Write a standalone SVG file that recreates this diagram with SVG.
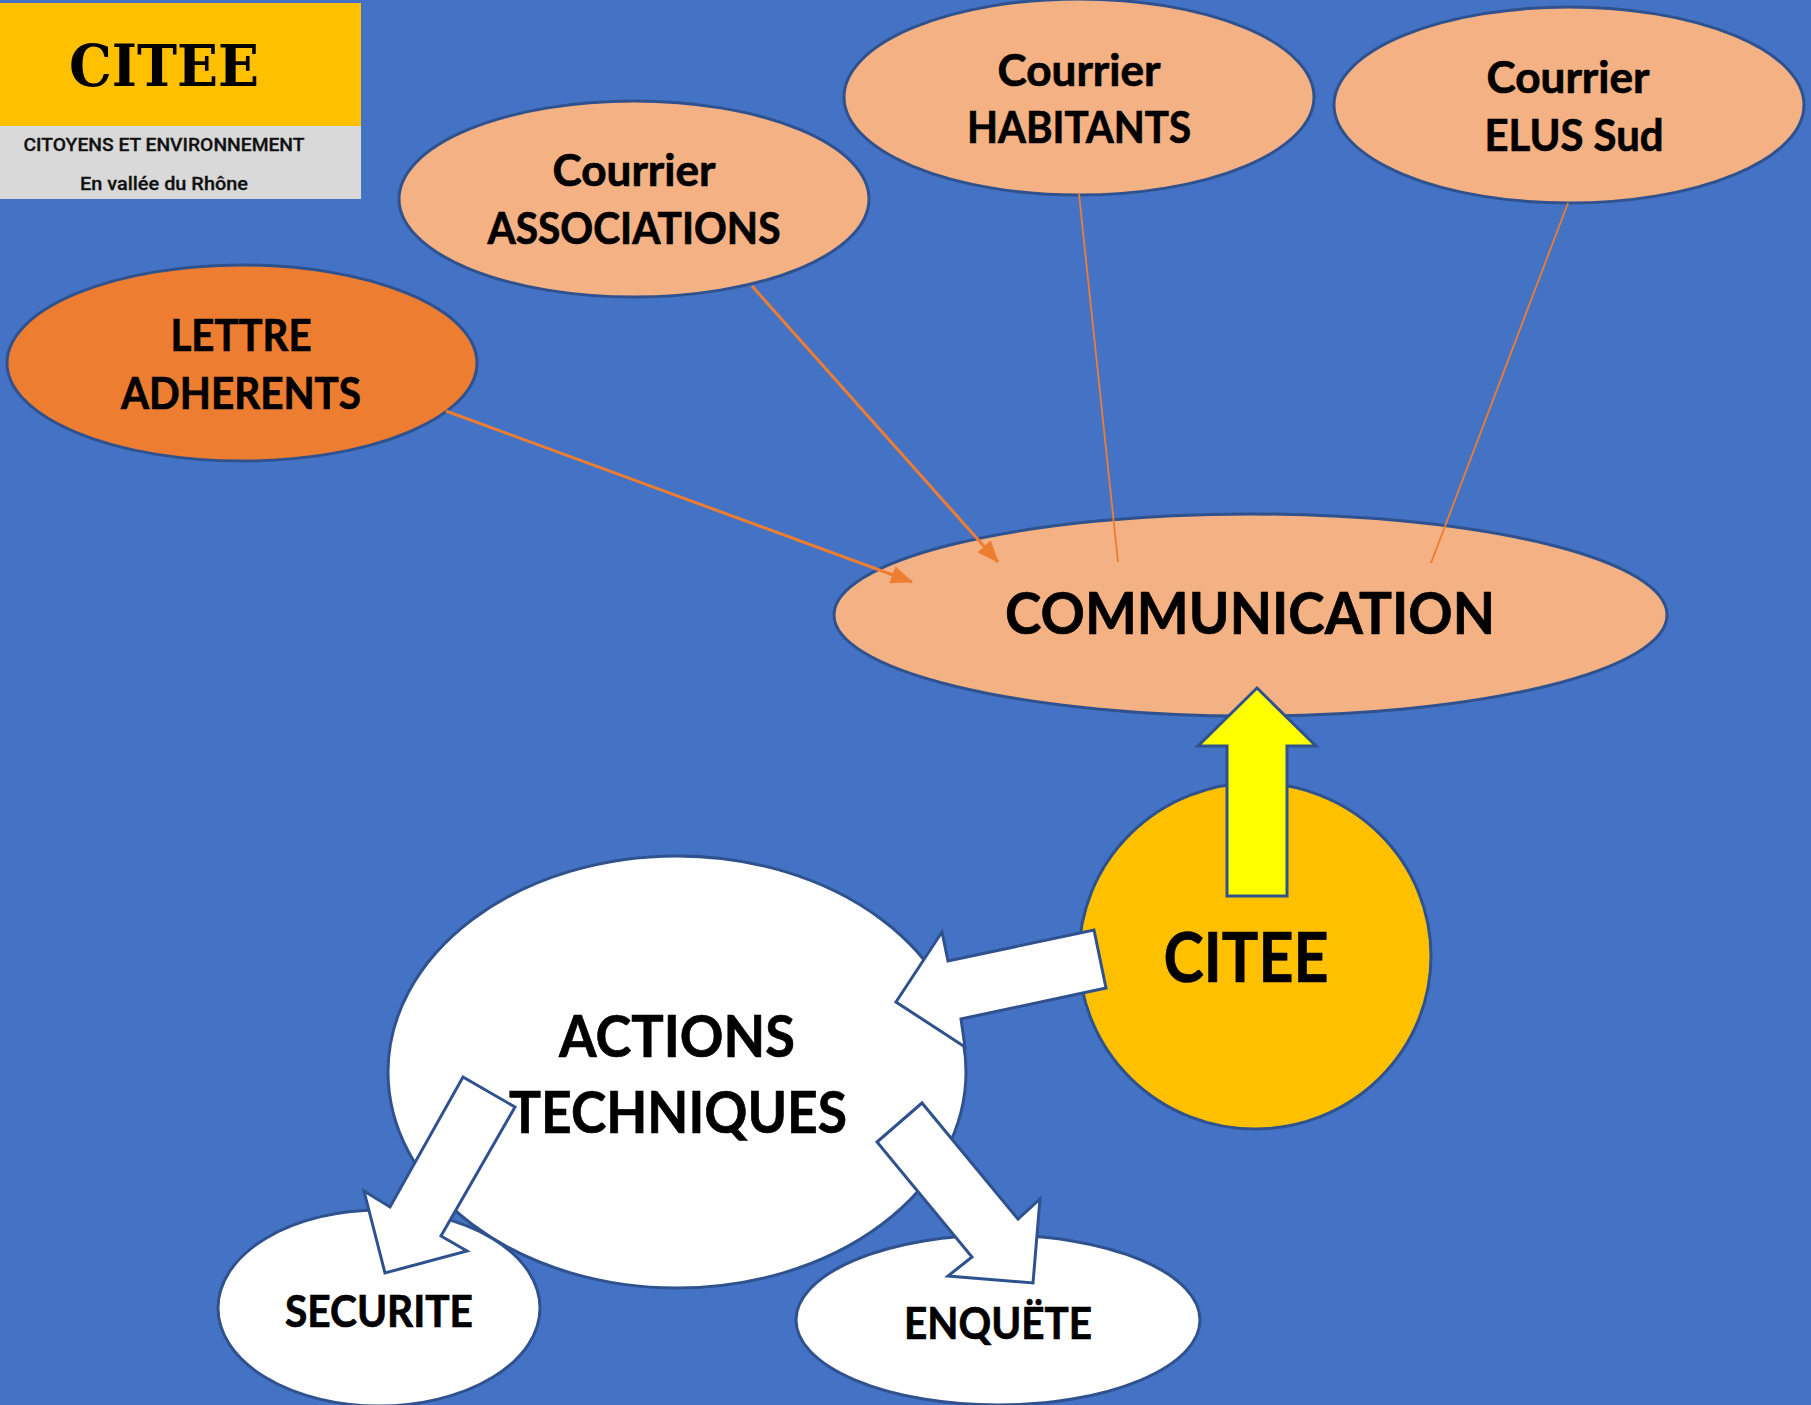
<svg xmlns="http://www.w3.org/2000/svg" width="1811" height="1405" viewBox="0 0 1811 1405">
<style>
.n{stroke:#2F528F;stroke-width:3}
.l{fill:#F4B183}
.w{fill:#fff}
.t{font-family:Lato,"Liberation Sans",sans-serif;font-weight:700;fill:#000;stroke:#000;stroke-width:.7;text-anchor:middle}
.c{stroke:#ED7D31;fill:none}
.s{font-family:Roboto,"Liberation Sans",sans-serif;font-weight:500;fill:#111;stroke:#111;stroke-width:.3;font-size:19px;text-anchor:middle}
</style>
<defs>
<marker id="a" markerUnits="userSpaceOnUse" markerWidth="22" markerHeight="18" refX="21" refY="9" orient="auto"><path d="M0 0L22 9L0 18Z" fill="#ED7D31"/></marker>
</defs>
<rect width="1811" height="1405" fill="#4472C4"/>
<g id="logo">
<rect y="3" width="361" height="123" fill="#FFC000"/>
<rect y="126" width="361" height="73" fill="#D9D9D9"/>
<text x="164" y="86" font-family="'DejaVu Serif',serif" font-weight="700" font-size="58" textLength="190" lengthAdjust="spacingAndGlyphs" fill="#000" text-anchor="middle">CITEE</text>
<text class="s" x="164" y="151" textLength="281" lengthAdjust="spacingAndGlyphs">CITOYENS ET ENVIRONNEMENT</text>
<text class="s" x="164" y="190" textLength="168" lengthAdjust="spacingAndGlyphs">En vallée du Rhône</text>
</g>
<g id="n-lettre"><ellipse class="n" fill="#ED7D31" cx="242" cy="363" rx="235" ry="98"/><text class="t" font-size="43" x="241" y="351" textLength="141" lengthAdjust="spacingAndGlyphs">LETTRE</text><text class="t" font-size="43" x="241" y="409" textLength="240" lengthAdjust="spacingAndGlyphs">ADHERENTS</text></g>
<g id="n-assoc"><ellipse class="n l" cx="634" cy="199" rx="235" ry="98"/><text class="t" font-size="43" x="634" y="186" textLength="163" lengthAdjust="spacingAndGlyphs">Courrier</text><text class="t" font-size="43" x="634" y="244" textLength="293" lengthAdjust="spacingAndGlyphs">ASSOCIATIONS</text></g>
<g id="n-habitants"><ellipse class="n l" cx="1079" cy="97" rx="235" ry="98"/><text class="t" font-size="43" x="1079" y="86" textLength="163" lengthAdjust="spacingAndGlyphs">Courrier</text><text class="t" font-size="43" x="1079" y="143" textLength="224" lengthAdjust="spacingAndGlyphs">HABITANTS</text></g>
<g id="n-elus"><ellipse class="n l" cx="1569" cy="105" rx="235" ry="98"/><text class="t" font-size="43" x="1568" y="93" textLength="163" lengthAdjust="spacingAndGlyphs">Courrier</text><text class="t" font-size="43" x="1574" y="151" textLength="179" lengthAdjust="spacingAndGlyphs">ELUS Sud</text></g>
<g id="n-comm"><ellipse class="n l" cx="1250.5" cy="615" rx="416.5" ry="101"/><text class="t" font-size="58" x="1250" y="634" textLength="490" lengthAdjust="spacingAndGlyphs">COMMUNICATION</text></g>
<g id="connectors">
<path class="c" stroke-width="3" marker-end="url(#a)" d="M446 411L912 582"/>
<path class="c" stroke-width="3" marker-end="url(#a)" d="M752 286L998 562"/>
<path class="c" stroke-width="1.8" d="M1079 194L1118 562"/>
<path class="c" stroke-width="1.8" d="M1568 203L1431 563"/>
</g>
<g id="n-citee"><ellipse class="n" fill="#FFC000" cx="1255" cy="956" rx="176" ry="173"/><text class="t" font-size="68" x="1246" y="982" textLength="165" lengthAdjust="spacingAndGlyphs">CITEE</text></g>
<g id="n-actions"><ellipse class="n w" cx="677" cy="1072" rx="289" ry="216"/><text class="t" font-size="58" x="677" y="1057" textLength="236" lengthAdjust="spacingAndGlyphs">ACTIONS</text><text class="t" font-size="58" x="678" y="1133" textLength="338" lengthAdjust="spacingAndGlyphs">TECHNIQUES</text></g>
<g id="n-securite"><ellipse class="n w" cx="379" cy="1308" rx="161" ry="98"/><text class="t" font-size="43" x="379" y="1327" textLength="188" lengthAdjust="spacingAndGlyphs">SECURITE</text></g>
<g id="n-enquete"><ellipse class="n w" cx="998" cy="1320" rx="202" ry="85"/><text class="t" font-size="43" x="998" y="1339" textLength="188" lengthAdjust="spacingAndGlyphs">ENQUËTE</text></g>
<g id="arrows">
<path class="n" fill="#FF0" d="M1257 688L1316 746H1287V896H1227V746H1198Z"/>
<path class="n w" d="M1094 930L1106 988L961 1019L965 1047L896 1002L942 932L948 961Z"/>
<path class="n w" d="M463 1077L515 1107L441 1236L467 1251L385 1273L364 1191L390 1207Z"/>
<path class="n w" d="M922 1103L877 1142L972 1257L948 1276L1033 1283L1040 1199L1018 1219Z"/>
</g>
</svg>
